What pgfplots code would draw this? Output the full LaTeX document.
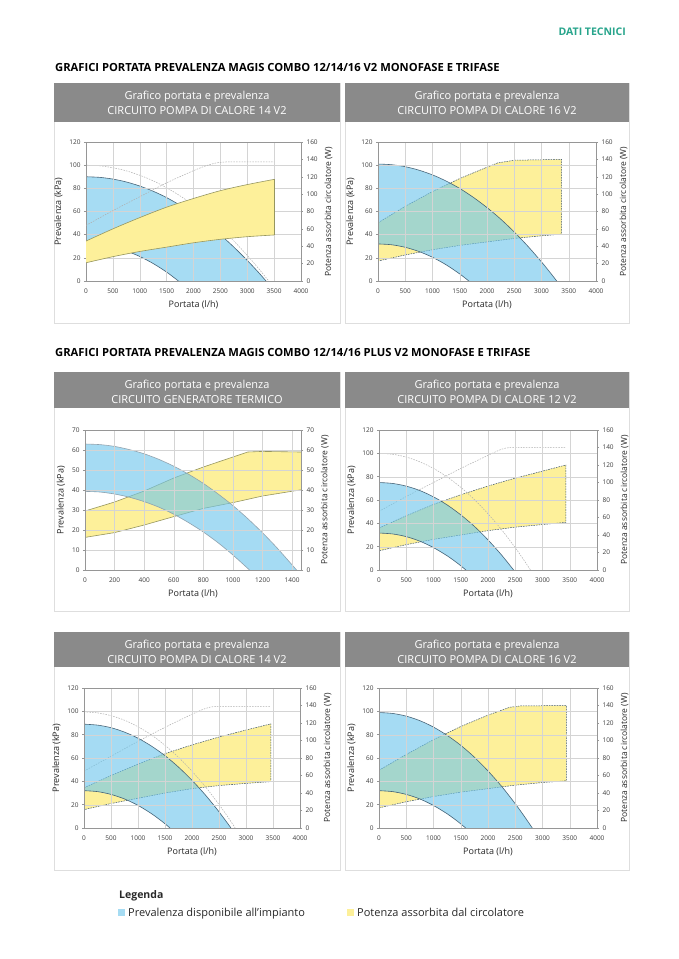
\documentclass[border=0pt]{standalone}
\usepackage{fontspec}
\setmainfont{Open Sans}
\usepackage{pgfplots}
\pgfplotsset{compat=1.18}

\definecolor{hdr}{RGB}{138,138,138}
\definecolor{bordergray}{RGB}{222,222,222}
\definecolor{gridgray}{RGB}{212,212,212}
\definecolor{axgray}{RGB}{150,150,150}
\definecolor{txtdark}{RGB}{40,40,40}
\definecolor{txtgray}{RGB}{60,60,60}
\definecolor{blueop}{RGB}{166,220,243}
\definecolor{bluetr}{RGB}{110,198,236}
\definecolor{yel}{RGB}{253,240,154}
\definecolor{blueedge}{RGB}{70,100,120}
\definecolor{yeledge}{RGB}{60,85,110}
\definecolor{oliveedge}{RGB}{150,150,95}
\definecolor{dotgray}{RGB}{175,175,175}
\definecolor{teal}{RGB}{40,165,140}

\pgfplotsset{
  common/.style={scale only axis, xmin=0, xmax=4000,
    /pgf/number format/assume math mode=true, /pgf/number format/1000 sep={},
    ticklabel style={font=\fontsize{6.5}{7}\selectfont, text=txtgray},
    xticklabel style={yshift=-2.5pt},
    label style={font=\fontsize{9}{10}\selectfont, text=txtdark},
    axis line style={draw=axgray, line width=0.5pt},
    tick style={draw=axgray, line width=0.4pt},
    tick align=outside, major tick length=2pt},
  leftax/.style={common, ymin=0, ymax=120, ytick={0,20,...,120}, xtick={0,500,...,4000},
    grid=major, grid style={draw=gridgray, line width=0.35pt},
    xtick pos=left, ytick pos=left, xtick style={draw=none},
    xlabel={Portata (l/h)}, ylabel={Prevalenza (kPa)}, axis on top},
  rightax/.style={common, ymin=0, ymax=160, ytick={0,20,...,160},
    axis x line=none, axis y line*=right,
    ylabel style={font=\fontsize{8.5}{9}\selectfont},
    ylabel={Potenza assorbita circolatore (W)}},
  bfill/.style={fill=bluetr, fill opacity=0.614, draw=none},
  bfillop/.style={fill=blueop, draw=none},
  bedge/.style={draw=blueedge, line width=0.6pt, smooth, no marks},
  yfill/.style={fill=yel, draw=none},
  ydash/.style={draw=yeledge, line width=0.5pt, dash pattern=on 1.6pt off 1pt, no marks},
  ysolid/.style={draw=oliveedge, line width=0.6pt, no marks},
  gdot/.style={draw=dotgray, line width=0.5pt, dash pattern=on 1.5pt off 1.2pt, smooth, no marks},
}

\newcommand{\panel}[7]{%
  \draw[draw=bordergray, line width=0.8pt] (#1,-#3) rectangle (#2,-#5);
  \fill[hdr] (#1,-#3) rectangle (#2,-#4);
  \node[text=white, font=\fontsize{11}{12}\selectfont, anchor=base] at ({(#1+#2)/2},{-#3-16.5}) {#6};
  \node[text=white, font=\fontsize{11}{12}\selectfont, anchor=base] at ({(#1+#2)/2},{-#3-31}) {#7};
}

\begin{document}
\begin{tikzpicture}
\begin{scope}[x=1pt,y=1pt]
\fill[white] (0,0) rectangle (678,-959);
\path[use as bounding box] (0,0) rectangle (678,-959);

\node[anchor=base east, text=teal, font=\bfseries\fontsize{10.5}{11}\selectfont, inner sep=0pt] at (626,-35) {DATI TECNICI};
\node[anchor=base west, text=black, font=\bfseries\fontsize{11.2}{12}\selectfont, inner sep=0pt] at (55,-71) {GRAFICI PORTATA PREVALENZA MAGIS COMBO 12/14/16 V2 MONOFASE E TRIFASE};
\node[anchor=base west, text=black, font=\bfseries\fontsize{11.2}{12}\selectfont, inner sep=0pt] at (55,-356) {GRAFICI PORTATA PREVALENZA MAGIS COMBO 12/14/16 PLUS V2 MONOFASE E TRIFASE};

\panel{54}{340}{83}{122}{323}{Grafico portata e prevalenza}{CIRCUITO POMPA DI CALORE 14 V2}
\panel{345}{629}{83}{122}{323}{Grafico portata e prevalenza}{CIRCUITO POMPA DI CALORE 16 V2}
\panel{54}{340}{372}{408}{611}{Grafico portata e prevalenza}{CIRCUITO GENERATORE TERMICO}
\panel{345}{629}{372}{408}{611}{Grafico portata e prevalenza}{CIRCUITO POMPA DI CALORE 12 V2}
\panel{54}{340}{632}{667}{870}{Grafico portata e prevalenza}{CIRCUITO POMPA DI CALORE 14 V2}
\panel{345}{629}{632}{667}{870}{Grafico portata e prevalenza}{CIRCUITO POMPA DI CALORE 16 V2}

\node[anchor=base west, font=\bfseries\fontsize{10.5}{11}\selectfont, text=txtdark, inner sep=0pt] at (119,-898) {Legenda};
\fill[blueop] (118,-909) rectangle (125,-916);
\node[anchor=base west, font=\fontsize{11}{12}\selectfont, text=txtdark, inner sep=0pt] at (128,-916) {Prevalenza disponibile all'impianto};
\fill[yel] (347,-909) rectangle (354,-916);
\node[anchor=base west, font=\fontsize{11}{12}\selectfont, text=txtdark, inner sep=0pt] at (357,-916) {Potenza assorbita dal circolatore};
\end{scope}

% ================= Panel 1 =================
\begin{axis}[leftax, at={(86pt,-281pt)}, anchor=south west, width=215pt, height=139pt]
\addplot[bfillop] coordinates {(0,90)(250,89.5)(500,88.0)(750,85.5)(1000,82.0)(1250,77.5)(1500,72.0)(1750,65.4)(2000,57.9)(2250,49.4)(2500,39.9)(2750,29.3)(3000,17.8)(3200,7.9)(3350,0)(1720,0)(1500,7.7)(1250,15.1)(1000,21.2)(750,25.9)(500,29.3)(250,31.3)(0,32)} -- cycle;
\addplot[bedge] coordinates {(0,90)(250,89.5)(500,88.0)(750,85.5)(1000,82.0)(1250,77.5)(1500,72.0)(1750,65.4)(2000,57.9)(2250,49.4)(2500,39.9)(2750,29.3)(3000,17.8)(3200,7.9)(3350,0)};
\addplot[bedge] coordinates {(0,32)(250,31.3)(500,29.3)(750,25.9)(1000,21.2)(1250,15.1)(1500,7.7)(1720,0)};
\addplot[gdot] coordinates {(0,100)(250,99.5)(500,97.8)(750,95.1)(1000,91.3)(1250,86.5)(1500,80.5)(1750,73.5)(2000,65.4)(2250,56.2)(2500,45.9)(2750,34.6)(3000,22.1)(3200,11.4)(3400,0)};
\end{axis}
\begin{axis}[rightax, at={(86pt,-281pt)}, anchor=south west, width=215pt, height=139pt]
\addplot[gdot] coordinates {(0,64)(500,81)(1000,97)(1500,113)(2000,127)(2300,134)(2600,137)(3500,137)};
\addplot[yfill] coordinates {(0,46)(500,60)(1000,73)(1500,85)(2000,95)(2500,104)(3000,111)(3500,117)(3500,53)(3000,51)(2500,48)(2000,44)(1500,39)(1000,34)(500,28)(0,21)} -- cycle;
\addplot[ysolid, smooth] coordinates {(0,46)(500,60)(1000,73)(1500,85)(2000,95)(2500,104)(3000,111)(3500,117)};
\addplot[ysolid, smooth] coordinates {(0,21)(500,28)(1000,34)(1500,39)(2000,44)(2500,48)(3000,51)(3500,53)};
\addplot[ysolid] coordinates {(3500,53)(3500,117)};
\end{axis}

% ================= Panel 2 =================
\begin{axis}[rightax, at={(378pt,-281pt)}, anchor=south west, width=218pt, height=139pt]
\addplot[yfill] coordinates {(0,67)(500,86)(1000,103)(1500,118)(2000,131)(2200,136)(2500,139)(3370,140)(3370,54)(3000,52)(2500,49)(2000,45)(1500,41)(1000,36)(500,30)(0,23)} -- cycle;
\addplot[ydash] coordinates {(0,67)(500,86)(1000,103)(1500,118)(2000,131)(2200,136)(2500,139)(3370,140)(3370,54)(3000,52)(2500,49)(2000,45)(1500,41)(1000,36)(500,30)(0,23)};
\end{axis}
\begin{axis}[leftax, at={(378pt,-281pt)}, anchor=south west, width=218pt, height=139pt]
\addplot[bfill] coordinates {(0,101)(250,100.4)(500,98.7)(750,95.7)(1000,91.6)(1250,86.3)(1500,79.9)(1750,72.2)(2000,63.4)(2250,53.5)(2500,42.3)(2750,30.0)(3000,16.5)(3150,7.8)(3280,0)(1667,0)(1500,6.1)(1250,14.0)(1000,20.5)(750,25.5)(500,29.1)(250,31.3)(0,32)} -- cycle;
\addplot[bedge] coordinates {(0,101)(250,100.4)(500,98.7)(750,95.7)(1000,91.6)(1250,86.3)(1500,79.9)(1750,72.2)(2000,63.4)(2250,53.5)(2500,42.3)(2750,30.0)(3000,16.5)(3150,7.8)(3280,0)};
\addplot[bedge] coordinates {(0,32)(250,31.3)(500,29.1)(750,25.5)(1000,20.5)(1250,14.0)(1500,6.1)(1667,0)};
\end{axis}

% ================= Panel 3 =================
\begin{axis}[rightax, xmax=1460, ymax=70, ytick={0,10,...,70}, at={(85pt,-570pt)}, anchor=south west, width=216pt, height=140pt]
\addplot[yfill] coordinates {(0,29.5)(200,34)(400,39.5)(600,46)(800,51.5)(1000,56.5)(1100,59)(1200,59.3)(1460,59)(1460,40.1)(1200,37)(1000,33.7)(800,30.8)(600,26.7)(400,22.5)(200,18.7)(0,16.3)} -- cycle;
\addplot[ysolid] coordinates {(0,29.5)(200,34)(400,39.5)(600,46)(800,51.5)(1000,56.5)(1100,59)(1200,59.3)(1460,59)};
\addplot[ysolid] coordinates {(0,16.3)(200,18.7)(400,22.5)(600,26.7)(800,30.8)(1000,33.7)(1200,37)(1460,40.1)};
\end{axis}
\begin{axis}[leftax, xmax=1460, ymax=70, ytick={0,10,...,70}, xtick={0,200,...,1400}, at={(85pt,-570pt)}, anchor=south west, width=216pt, height=140pt]
\addplot[bfill] coordinates {(0,63)(100,62.7)(200,61.8)(300,60.2)(400,58.1)(500,55.3)(600,51.9)(700,47.9)(800,43.3)(900,38.0)(1000,32.2)(1100,25.7)(1200,18.6)(1300,10.9)(1430,0)(1112,0)(1000,7.5)(900,13.6)(800,19.0)(700,23.7)(600,27.9)(500,31.4)(400,34.2)(300,36.4)(200,38.0)(100,39.0)(0,39.3)} -- cycle;
\addplot[bedge, draw=blueedge!60] coordinates {(0,63)(100,62.7)(200,61.8)(300,60.2)(400,58.1)(500,55.3)(600,51.9)(700,47.9)(800,43.3)(900,38.0)(1000,32.2)(1100,25.7)(1200,18.6)(1300,10.9)(1430,0)};
\addplot[bedge, draw=blueedge!60] coordinates {(0,39.3)(100,39.0)(200,38.0)(300,36.4)(400,34.2)(500,31.4)(600,27.9)(700,23.7)(800,19.0)(900,13.6)(1000,7.5)(1112,0)};
\end{axis}

% ================= Panel 4 =================
\begin{axis}[rightax, at={(379pt,-570pt)}, anchor=south west, width=218pt, height=140pt]
\addplot[gdot] coordinates {(0,67)(500,84)(1000,100)(1500,116)(2000,131)(2300,139)(2600,140)(3430,140)};
\addplot[yfill] coordinates {(0,48)(500,62)(1000,75)(1500,86)(2000,96)(2500,105)(3000,113)(3430,120)(3430,54.5)(3000,52)(2500,49)(2000,45)(1500,40)(1000,35)(500,29)(0,22)} -- cycle;
\addplot[ydash] coordinates {(0,48)(500,62)(1000,75)(1500,86)(2000,96)(2500,105)(3000,113)(3430,120)(3430,54.5)(3000,52)(2500,49)(2000,45)(1500,40)(1000,35)(500,29)(0,22)};
\end{axis}
\begin{axis}[leftax, at={(379pt,-570pt)}, anchor=south west, width=218pt, height=140pt]
\addplot[gdot] coordinates {(0,100)(250,99.2)(500,96.8)(750,92.7)(1000,87.1)(1250,79.8)(1500,70.9)(1750,60.4)(2000,48.2)(2250,34.5)(2500,19.1)(2650,9.1)(2780,0)};
\addplot[bfill] coordinates {(0,75)(250,74.2)(500,71.9)(750,68.1)(1000,62.7)(1250,55.8)(1500,47.3)(1750,37.4)(2000,25.8)(2250,12.8)(2470,0)(1595,0)(1450,5.5)(1250,12.2)(1000,19.2)(750,24.7)(500,28.6)(250,30.9)(0,31.7)} -- cycle;
\addplot[bedge] coordinates {(0,75)(250,74.2)(500,71.9)(750,68.1)(1000,62.7)(1250,55.8)(1500,47.3)(1750,37.4)(2000,25.8)(2250,12.8)(2470,0)};
\addplot[bedge] coordinates {(0,31.7)(250,30.9)(500,28.6)(750,24.7)(1000,19.2)(1250,12.2)(1450,5.5)(1595,0)};
\end{axis}

% ================= Panel 5 =================
\begin{axis}[rightax, at={(84pt,-828pt)}, anchor=south west, width=216pt, height=140pt]
\addplot[gdot] coordinates {(0,65)(500,82)(1000,99)(1500,115)(2000,130)(2270,137)(2500,139)(3460,139)};
\addplot[yfill] coordinates {(0,46)(500,60)(1000,73)(1500,85)(2000,95)(2500,104)(3000,112)(3460,119)(3460,53)(3000,51)(2500,48.5)(2000,45)(1500,40)(1000,34)(500,28)(0,21)} -- cycle;
\addplot[ydash] coordinates {(0,46)(500,60)(1000,73)(1500,85)(2000,95)(2500,104)(3000,112)(3460,119)(3460,53)(3000,51)(2500,48.5)(2000,45)(1500,40)(1000,34)(500,28)(0,21)};
\end{axis}
\begin{axis}[leftax, at={(84pt,-828pt)}, anchor=south west, width=216pt, height=140pt]
\addplot[gdot] coordinates {(0,99.5)(250,98.7)(500,96.3)(750,92.4)(1000,86.8)(1250,79.7)(1500,70.9)(1750,60.6)(2000,48.7)(2250,35.3)(2500,20.2)(2650,10.4)(2800,0)};
\addplot[bfill] coordinates {(0,89)(250,88.2)(500,86.0)(750,82.2)(1000,77.0)(1250,70.2)(1500,62.0)(1750,52.2)(2000,40.9)(2250,28.2)(2500,13.9)(2722,0)(1593,0)(1450,5.5)(1250,12.3)(1000,19.4)(750,24.9)(500,28.8)(250,31.2)(0,32)} -- cycle;
\addplot[bedge] coordinates {(0,89)(250,88.2)(500,86.0)(750,82.2)(1000,77.0)(1250,70.2)(1500,62.0)(1750,52.2)(2000,40.9)(2250,28.2)(2500,13.9)(2722,0)};
\addplot[bedge] coordinates {(0,32)(250,31.2)(500,28.8)(750,24.9)(1000,19.4)(1250,12.3)(1450,5.5)(1593,0)};
\end{axis}

% ================= Panel 6 =================
\begin{axis}[rightax, at={(379pt,-828pt)}, anchor=south west, width=218pt, height=140pt]
\addplot[yfill] coordinates {(0,66)(500,84)(1000,101)(1500,116)(2000,129)(2400,138)(2600,139.5)(3440,140)(3440,54)(3000,52)(2500,49)(2000,45)(1500,41)(1000,36)(500,30)(0,23)} -- cycle;
\addplot[ydash] coordinates {(0,66)(500,84)(1000,101)(1500,116)(2000,129)(2400,138)(2600,139.5)(3440,140)(3440,54)(3000,52)(2500,49)(2000,45)(1500,41)(1000,36)(500,30)(0,23)};
\end{axis}
\begin{axis}[leftax, at={(379pt,-828pt)}, anchor=south west, width=218pt, height=140pt]
\addplot[bfill] coordinates {(0,99)(250,98.2)(500,95.9)(750,92.0)(1000,86.5)(1250,79.4)(1500,70.9)(1750,60.7)(2000,48.9)(2250,35.7)(2500,20.8)(2650,11.1)(2813,0)(1590,0)(1450,5.4)(1250,12.2)(1000,19.3)(750,24.9)(500,28.8)(250,31.2)(0,32)} -- cycle;
\addplot[bedge] coordinates {(0,99)(250,98.2)(500,95.9)(750,92.0)(1000,86.5)(1250,79.4)(1500,70.9)(1750,60.7)(2000,48.9)(2250,35.7)(2500,20.8)(2650,11.1)(2813,0)};
\addplot[bedge] coordinates {(0,32)(250,31.2)(500,28.8)(750,24.9)(1000,19.3)(1250,12.2)(1450,5.4)(1590,0)};
\end{axis}
\end{tikzpicture}
\end{document}
